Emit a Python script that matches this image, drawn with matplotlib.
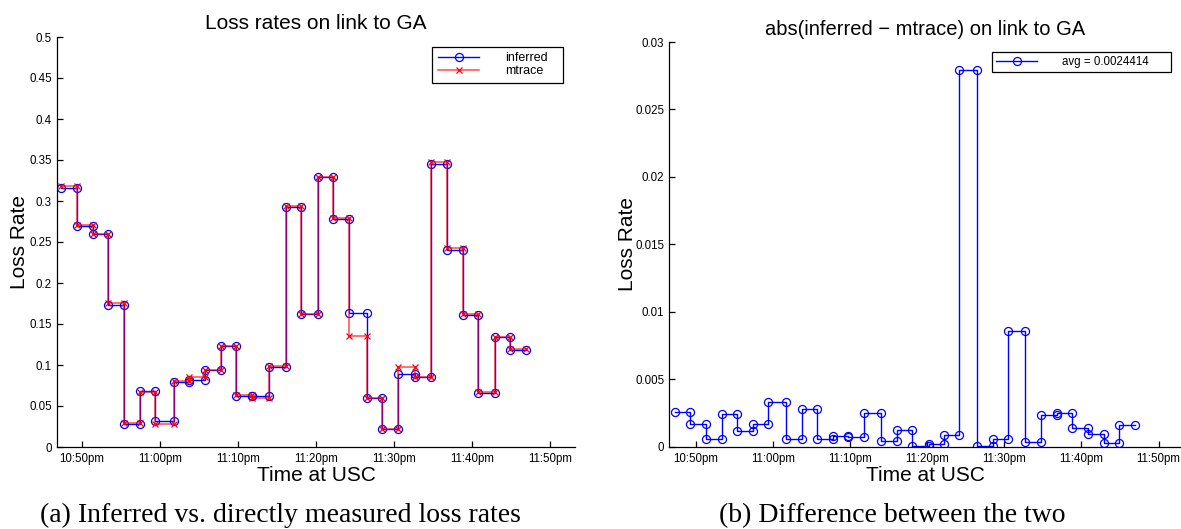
import numpy as np
import matplotlib
matplotlib.use("Agg")
import matplotlib.pyplot as plt

plt.rcParams['font.family'] = ['Liberation Sans', 'DejaVu Sans']

# Step boundaries, minutes after 10:00pm
t_bounds = [47.3, 49.3, 51.4, 53.4, 55.4, 57.4, 59.4, 61.75, 63.75, 65.75,
            67.8, 69.8, 71.8, 74.0, 76.1, 78.1, 80.2, 82.2, 84.2, 86.5,
            88.5, 90.5, 92.7, 94.7, 96.8, 98.8, 100.8, 102.9, 104.9, 106.9]

inferred = [0.316, 0.2695, 0.2594, 0.1732, 0.0276, 0.0683, 0.0313, 0.0793, 0.0821, 0.0939,
            0.1236, 0.0626, 0.0622, 0.0980, 0.2927, 0.1618, 0.3290, 0.2780, 0.1638, 0.0594,
            0.0215, 0.0894, 0.0854, 0.3455, 0.2398, 0.1606, 0.0663, 0.1337, 0.1183]

mtrace = [0.3186, 0.2712, 0.2600, 0.1757, 0.0288, 0.0666, 0.0280, 0.0799, 0.0849, 0.0945,
          0.1228, 0.0633, 0.0597, 0.0985, 0.2939, 0.1618, 0.3292, 0.2789, 0.1359, 0.0594,
          0.0221, 0.0979, 0.0858, 0.3470, 0.2423, 0.1620, 0.0672, 0.1339, 0.1199]

abs_diff = [0.00257, 0.00166, 0.00055, 0.00245, 0.00119, 0.00170, 0.00329, 0.00057, 0.00277, 0.00055,
            0.00079, 0.00072, 0.00250, 0.00045, 0.00121, 0.00003, 0.00022, 0.00089, 0.02792, 0.00003,
            0.00059, 0.00855, 0.00035, 0.00233, 0.00252, 0.00141, 0.00092, 0.00025, 0.00163]

tick_minutes = [50, 60, 70, 80, 90, 100, 110]
tick_labels = ['10:50pm', '11:00pm', '11:10pm', '11:20pm', '11:30pm', '11:40pm', '11:50pm']
left_yticks = [0, 0.05, 0.1, 0.15, 0.2, 0.25, 0.3, 0.35, 0.4, 0.45, 0.5]
left_yticklabels = ['0', '0.05', '0.1', '0.15', '0.2', '0.25', '0.3', '0.35', '0.4', '0.45', '0.5']
right_yticks = [0, 0.005, 0.01, 0.015, 0.02, 0.025, 0.03]
right_yticklabels = ['0', '0.005', '0.01', '0.015', '0.02', '0.025', '0.03']


def steps(bounds, vals):
    b = np.asarray(bounds)
    v = np.asarray(vals)
    xs = np.repeat(b, 2)[1:-1]
    ys = np.repeat(v, 2)
    return xs, ys


W, H = 1181, 529
fig = plt.figure(figsize=(W / 100, H / 100), dpi=100)

ax1 = fig.add_axes([57 / W, 1 - 447 / H, 518 / W, 410 / H])
ax2 = fig.add_axes([669.3 / W, 1 - 446.7 / H, 511.7 / W, 404.7 / H])

xi, yi = steps(t_bounds, inferred)
xm, ym = steps(t_bounds, mtrace)
ax1.plot(xi, yi, color='blue', lw=1.0, marker='o', ms=5.8, mfc='none', mec='blue',
         mew=0.9, label='inferred')
ax1.plot(xm, ym, color=(1, 0, 0, 0.7), lw=1.1, marker='x', ms=3.8, mec='red',
         mew=0.9, label='mtrace')

xd, yd = steps(t_bounds, abs_diff)
ax2.plot(xd, yd, color='blue', lw=1.0, marker='o', ms=5.8, mfc='none', mec='blue',
         mew=0.9, label='avg = 0.0024414')

for ax in (ax1, ax2):
    ax.spines['top'].set_visible(False)
    ax.spines['right'].set_visible(False)
    ax.spines['left'].set_linewidth(0.9)
    ax.spines['bottom'].set_linewidth(0.9)
    ax.set_xticks(tick_minutes)
    ax.set_xticklabels(tick_labels)
    ax.tick_params(direction='in', length=4, width=0.9, labelsize=8.3, colors='black')
    ax.tick_params(axis='x', pad=4.3)
    ax.tick_params(axis='y', pad=3.6)
    ax.set_xlabel('Time at USC', fontsize=15, labelpad=1)
    ax.set_ylabel('Loss Rate', fontsize=15)

ax1.set_xlim(46.8, 113.2)
ax1.set_ylim(0, 0.5)
ax1.set_yticks(left_yticks)
ax1.set_yticklabels(left_yticklabels)
ax1.set_title('Loss rates on link to GA', fontsize=15, pad=5.5)
ax1.yaxis.set_label_coords(-0.054, 0.5)

ax2.set_xlim(46.6, 112.9)
ax2.set_ylim(0, 0.03)
ax2.set_yticks(right_yticks)
ax2.set_yticklabels(right_yticklabels)
ax2.set_title('abs(inferred \u2212 mtrace) on link to GA', fontsize=14.5, pad=5)
ax2.yaxis.set_label_coords(-0.063, 0.5)

fs1 = 9
leg1 = ax1.legend(loc='upper left', bbox_to_anchor=((432.3 - 57) / 518, (447 - 46.7) / 410,
                                                      (562.7 - 432.3) / 518, 0.0),
                  mode='expand', borderaxespad=0, fontsize=fs1, frameon=True,
                  fancybox=False, edgecolor='black', framealpha=1, borderpad=0.45,
                  handlelength=3.3, handletextpad=2.1, labelspacing=0.05)
leg1.get_frame().set_linewidth(0.9)

leg2 = ax2.legend(loc='upper left', bbox_to_anchor=((992.3 - 669.3) / 511.7, (446.7 - 51.7) / 404.7,
                                                      (1170.7 - 992.3) / 511.7, 0.0),
                  mode='expand', borderaxespad=0, fontsize=8.3, frameon=True,
                  fancybox=False, edgecolor='black', framealpha=1, borderpad=0.35,
                  handlelength=3.5, handletextpad=2.2)
leg2.get_frame().set_linewidth(0.9)

fig.text(40 / W, 1 - 522 / H, '(a) Inferred vs. directly measured loss rates',
         family=['Liberation Serif', 'DejaVu Serif'], fontsize=20, va='baseline', ha='left')
fig.text(719 / W, 1 - 522 / H, '(b) Difference between the two',
         family=['Liberation Serif', 'DejaVu Serif'], fontsize=20, va='baseline', ha='left')

fig.savefig('out.png', dpi=100)
